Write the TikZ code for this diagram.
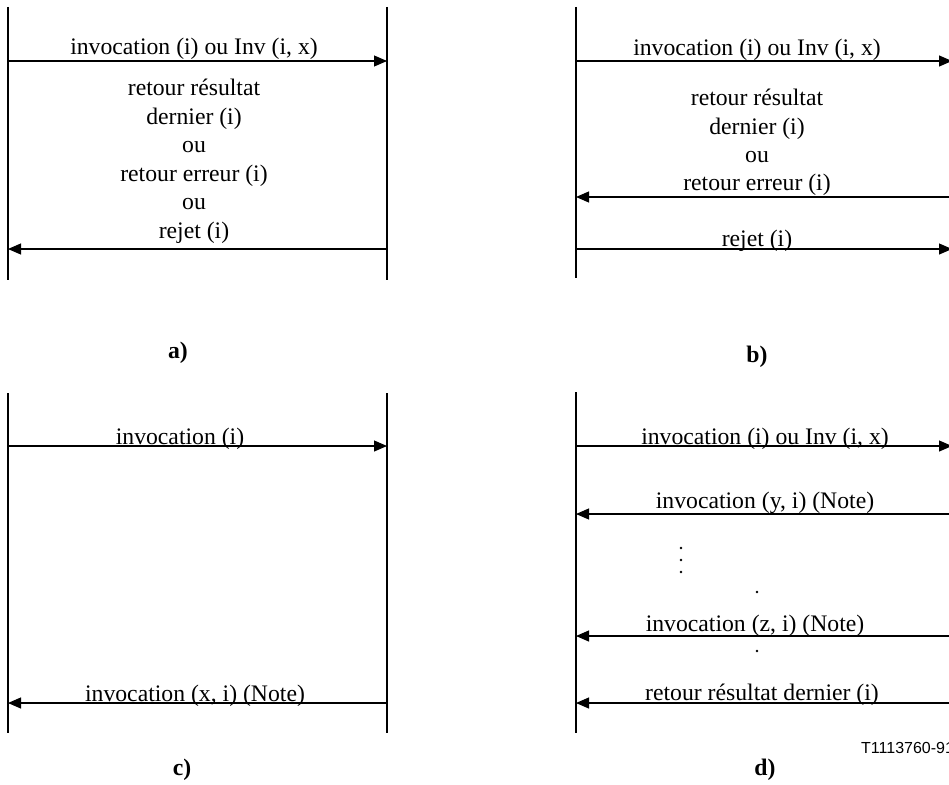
\documentclass[tikz,border=0pt]{standalone}
\usepackage{fontspec}
\setmainfont{Liberation Serif}
\newfontfamily\labelsans{Liberation Sans}
\usetikzlibrary{arrows.meta}
\begin{document}
\begin{tikzpicture}[x=1pt,y=-1pt,
  lifeline/.style={line width=1.4pt},
  msg/.style={line width=1.1pt,-{Triangle[length=13pt,width=11pt]}},
  lbl/.style={anchor=base,inner sep=0pt,font=\fontsize{23.7}{28}\selectfont},
  caption/.style={anchor=base,inner sep=0pt,font=\fontsize{23.7}{28}\selectfont\bfseries},
  ref/.style={anchor=base west,inner sep=0pt,font=\fontsize{16}{18}\selectfont\labelsans},
  dot/.style={circle,fill,inner sep=0pt,minimum size=2.6pt}]
\useasboundingbox (0,0) rectangle (949,784);
\clip (0,0) rectangle (949,784);

% ---- a) ----
\coordinate (aLt) at (8,7);   \coordinate (aLb) at (8,280);
\coordinate (aRt) at (387,7); \coordinate (aRb) at (387,280);
\draw[lifeline] (aLt) -- (aLb);
\draw[lifeline] (aRt) -- (aRb);
\coordinate (a1L) at (8,61);  \coordinate (a1R) at (387,61);
\coordinate (a2L) at (8,249); \coordinate (a2R) at (387,249);
\draw[msg] (a1L) -- (a1R);
\draw[msg] (a2R) -- (a2L);
\node[lbl] (aT1) at (194,55) {invocation (i) ou Inv (i, x)};
\node[lbl] (aT2) at (194,95) {retour résultat};
\node[lbl] (aT3) at (194,124) {dernier (i)};
\node[lbl] (aT4) at (194,152) {ou};
\node[lbl] (aT5) at (194,181) {retour erreur (i)};
\node[lbl] (aT6) at (194,209) {ou};
\node[lbl] (aT7) at (194,238) {rejet (i)};
\node[caption] (capA) at (178,358) {a)};

% ---- b) ----
\coordinate (bLt) at (576,7); \coordinate (bLb) at (576,278);
\draw[lifeline] (bLt) -- (bLb);
\coordinate (b1L) at (576,61);  \coordinate (b1R) at (952,61);
\coordinate (b2L) at (576,197); \coordinate (b2R) at (952,197);
\coordinate (b3L) at (576,249); \coordinate (b3R) at (952,249);
\draw[msg] (b1L) -- (b1R);
\draw[msg] (b2R) -- (b2L);
\draw[msg] (b3L) -- (b3R);
\node[lbl] (bT1) at (757,56) {invocation (i) ou Inv (i, x)};
\node[lbl] (bT2) at (757,105) {retour résultat};
\node[lbl] (bT3) at (757,134) {dernier (i)};
\node[lbl] (bT4) at (757,162) {ou};
\node[lbl] (bT5) at (757,190) {retour erreur (i)};
\node[lbl] (bT6) at (757,246) {rejet (i)};
\node[caption] (capB) at (757,362) {b)};

% ---- c) ----
\coordinate (cLt) at (8,393);   \coordinate (cLb) at (8,733);
\coordinate (cRt) at (387,393); \coordinate (cRb) at (387,733);
\draw[lifeline] (cLt) -- (cLb);
\draw[lifeline] (cRt) -- (cRb);
\coordinate (c1L) at (8,446); \coordinate (c1R) at (387,446);
\coordinate (c2L) at (8,703); \coordinate (c2R) at (387,703);
\draw[msg] (c1L) -- (c1R);
\draw[msg] (c2R) -- (c2L);
\node[lbl] (cT1) at (180,444) {invocation (i)};
\node[lbl] (cT2) at (195,701) {invocation (x, i) (Note)};
\node[caption] (capC) at (182,775) {c)};

% ---- d) ----
\coordinate (dLt) at (576,392); \coordinate (dLb) at (576,733);
\draw[lifeline] (dLt) -- (dLb);
\coordinate (d1L) at (576,446); \coordinate (d1R) at (952,446);
\coordinate (d2L) at (576,514); \coordinate (d2R) at (952,514);
\coordinate (d3L) at (576,636); \coordinate (d3R) at (952,636);
\coordinate (d4L) at (576,703); \coordinate (d4R) at (952,703);
\draw[msg] (d1L) -- (d1R);
\draw[msg] (d2R) -- (d2L);
\draw[msg] (d3R) -- (d3L);
\draw[msg] (d4R) -- (d4L);
\node[lbl] (dT1) at (765,444) {invocation (i) ou Inv (i, x)};
\node[lbl] (dT2) at (765,508) {invocation (y, i) (Note)};
\node[lbl] (dT3) at (755,631) {invocation (z, i) (Note)};
\node[lbl] (dT4) at (762,700) {retour résultat dernier (i)};
\node[dot] (dd1) at (681,548) {};
\node[dot] (dd2) at (681,560) {};
\node[dot] (dd3) at (681,572) {};
\node[dot] (dd4) at (757,592) {};
\node[dot] (dd5) at (757,651) {};
\node[caption] (capD) at (765,775) {d)};
\node[ref] (refno) at (861,753) {T1113760-91};
\end{tikzpicture}
\end{document}
